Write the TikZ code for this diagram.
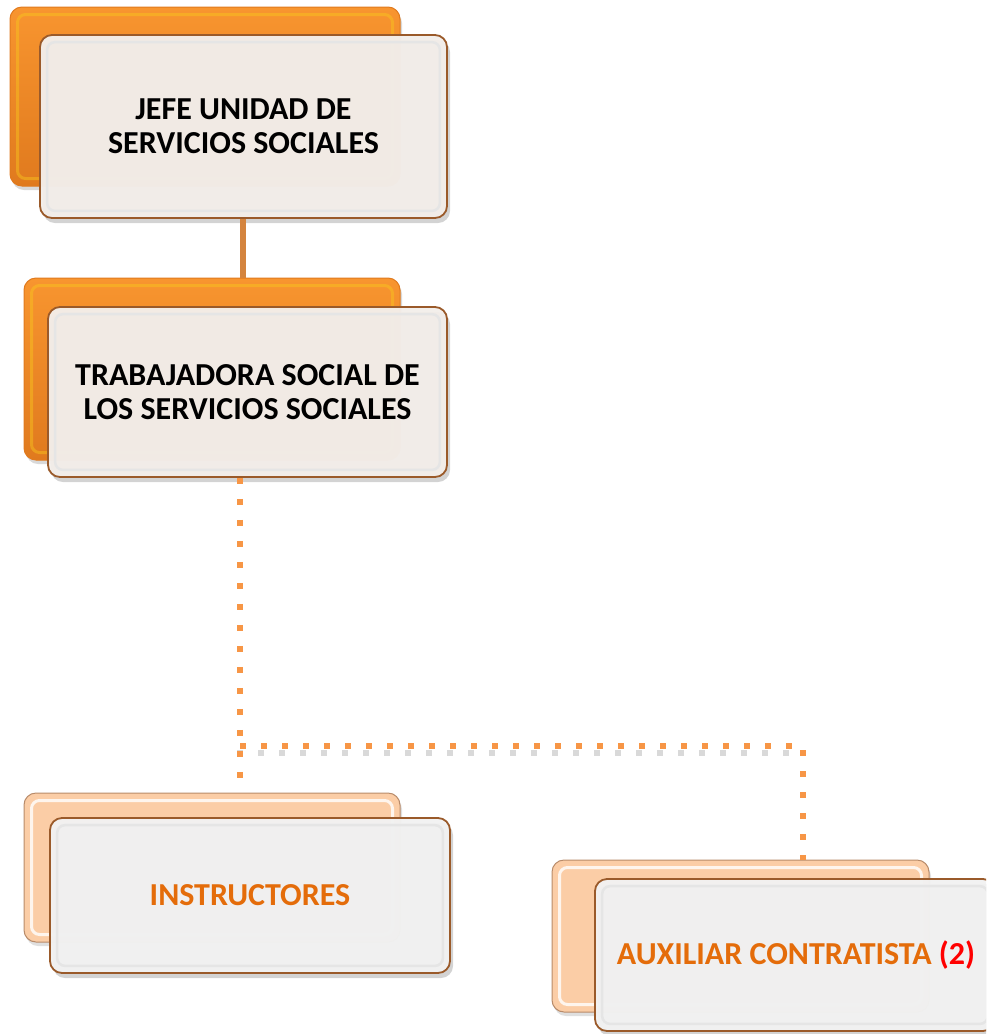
\documentclass[tikz,border=0pt]{standalone}
\usepackage{fontspec}
\setmainfont{Carlito}
\usetikzlibrary{shadows,calc}
\definecolor{orbase}{HTML}{F8952F}
\definecolor{ordark}{HTML}{E07A1E}
\definecolor{peach}{HTML}{FBCDA6}
\definecolor{frontfill}{HTML}{F3EEEA}
\definecolor{frontgray}{HTML}{F2F2F2}
\definecolor{rim}{HTML}{9A5A2A}
\definecolor{txtor}{HTML}{E46C0A}
\definecolor{lineor}{HTML}{F79646}
\definecolor{solidor}{HTML}{D4843E}
\tikzset{
  backor/.style={rectangle, rounded corners=12pt, draw=ordark, line width=1pt,
    top color=orbase, bottom color=ordark, inner sep=0pt,
    drop shadow={shadow xshift=2pt, shadow yshift=-4pt, opacity=0.3}},
  backpe/.style={rectangle, rounded corners=12pt, draw=rim!70, line width=1pt,
    fill=peach, inner sep=0pt,
    drop shadow={shadow xshift=2pt, shadow yshift=-4pt, opacity=0.25}},
  frontbox/.style={rectangle, rounded corners=12pt, draw=rim, line width=1.8pt,
    fill=frontfill, fill opacity=0.97, text opacity=1, inner sep=0pt, align=center,
    font=\bfseries\fontsize{32}{34}\selectfont,
    drop shadow={shadow xshift=3pt, shadow yshift=-5pt, opacity=0.35}},
  frontgr/.style={frontbox, fill=frontgray},
  bevel/.style={rounded corners=8pt, draw=black!10, line width=2.5pt},
  bevelor/.style={rounded corners=8pt, draw=yellow!50!orbase, line width=3pt, opacity=0.45},
  bevelpe/.style={rounded corners=8pt, draw=white, line width=3pt, opacity=0.8},
  solidline/.style={draw=solidor, line width=6pt},
  dotline/.style={draw=lineor, line width=6pt, dash pattern=on 6pt off 15pt},
  dotshadow/.style={draw=black!25, line width=6pt, dash pattern=on 6pt off 15pt, opacity=0.6},
}
\begin{document}
\begin{tikzpicture}[x=1pt,y=-1pt]
\useasboundingbox (0,0) rectangle (986,1034);
\clip (0,0) rectangle (986,1034);

\coordinate (j1) at (240,746);
\coordinate (j2) at (803,746);

% box 1
\node[backor, minimum width=390pt, minimum height=179pt] (b1) at (205,96.5) {};
\draw[bevelor] ([shift={(8,8)}]b1.north west) rectangle ([shift={(-8,-8)}]b1.south east);
% box 2 back
\node[backor, minimum width=376pt, minimum height=182pt] (b2) at (212,369) {};
\draw[bevelor] ([shift={(8,8)}]b2.north west) rectangle ([shift={(-8,-8)}]b2.south east);
% box 3 back
\node[backpe, minimum width=376pt, minimum height=149pt] (b3) at (212,867.5) {};
\draw[bevelpe] ([shift={(8,8)}]b3.north west) rectangle ([shift={(-8,-8)}]b3.south east);
% box 4 back
\node[backpe, minimum width=377pt, minimum height=152pt] (b4) at (740.5,936) {};
\draw[bevelpe] ([shift={(8,8)}]b4.north west) rectangle ([shift={(-8,-8)}]b4.south east);

% front boxes
\node[frontbox, minimum width=407pt, minimum height=183pt] (jefe) at (243.5,126.5)
  {JEFE UNIDAD DE\\SERVICIOS SOCIALES};
\draw[bevel] ([shift={(8,8)}]jefe.north west) rectangle ([shift={(-8,-8)}]jefe.south east);

\node[frontbox, minimum width=399pt, minimum height=170pt] (trab) at (247.5,392)
  {TRABAJADORA SOCIAL DE\\LOS SERVICIOS SOCIALES};
\draw[bevel] ([shift={(8,8)}]trab.north west) rectangle ([shift={(-8,-8)}]trab.south east);

% connectors
\draw[solidline] (jefe.south -| 243,0) -- (243,0 |- b2.north);
\draw[dotshadow] ([shift={(-3,7)}]j1) -- ([shift={(-3,7)}]j2);
\draw[dotline] (trab.south -| j1) -- (j1 |- b3.north);
\draw[dotline] (j1) -- (j2) -- (j2 |- b4.north);

\node[frontgr, minimum width=400pt, minimum height=155pt, text=txtor] (instr) at (250,895.5)
  {INSTRUCTORES};
\draw[bevel] ([shift={(8,8)}]instr.north west) rectangle ([shift={(-8,-8)}]instr.south east);

\node[frontgr, minimum width=400pt, minimum height=152pt, text=txtor] (aux) at (795,955)
  {};
\draw[bevel] ([shift={(8,8)}]aux.north west) rectangle ([shift={(-8,-8)}]aux.south east);
\node[font=\bfseries\fontsize{32}{34}\selectfont, text=txtor, inner sep=0pt] (auxt) at (796,955)
  {AUXILIAR CONTRATISTA \textcolor{red}{(2)}};
\end{tikzpicture}
\end{document}
